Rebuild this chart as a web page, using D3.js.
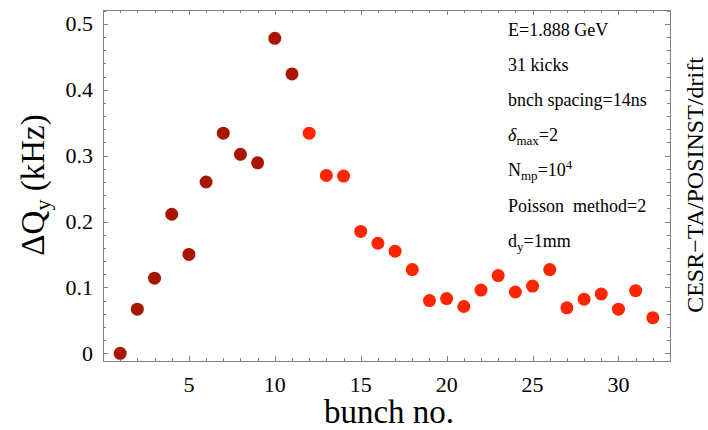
<!DOCTYPE html>
<html>
<head>
<meta charset="utf-8">
<script src="https://cdn.jsdelivr.net/npm/d3@7"></script>
<style>
  body { margin: 0; background: #fff; }
  svg { display: block; font-family: "Liberation Serif", "DejaVu Serif", serif; }
  .frame { fill: none; stroke: #808080; stroke-width: 1; }
  .tick-mark { stroke: #808080; stroke-width: 1; }
  .tick-label { font-size: 22px; fill: #000; }
  .axis-title { font-size: 33px; fill: #000; }
  .note { font-size: 18px; fill: #000; }
</style>
</head>
<body>
<svg id="chart"></svg>
<script>
// bunch number and vertical tune shift (kHz)
const bunchNo = [1, 2, 3, 4, 5, 6, 7, 8, 9, 10, 11, 12, 13, 14, 15, 16,
                 17, 18, 19, 20, 21, 22, 23, 24, 25, 26, 27, 28, 29, 30, 31, 32];
const deltaQy = [0.000, 0.067, 0.114, 0.211, 0.150, 0.260, 0.334, 0.302, 0.289, 0.478, 0.424,
                 0.334, 0.270, 0.269, 0.185, 0.167, 0.155, 0.127, 0.080, 0.083, 0.071,
                 0.096, 0.118, 0.093, 0.102, 0.127, 0.069, 0.082, 0.090, 0.067, 0.095, 0.054];
// first 11 bunches drawn darker
const pointGroup = bunchNo.map(b => b <= 11 ? 'early' : 'late');
const groupColors = {early: '#a81600', late: '#ff2500'};

const xTickValues = [5, 10, 15, 20, 25, 30];
const yTickValues = [0, 0.1, 0.2, 0.3, 0.4, 0.5];

const noteLines = [
  [{t: 'E=1.888 GeV'}],
  [{t: '31 kicks'}],
  [{t: 'bnch spacing=14ns'}],
  [{t: 'δ', it: true}, {t: 'max', sub: true}, {t: '=2'}],
  [{t: 'N'}, {t: 'mp', sub: true}, {t: '=10'}, {t: '4', sup: true}],
  [{t: 'Poisson  method=2'}],
  [{t: 'd'}, {t: 'y', sub: true}, {t: '=1mm'}]
];

const width = 708, height = 430;
const frame = {left: 103, right: 670, top: 10, bottom: 361};

const svg = d3.select('#chart')
    .attr('width', width)
    .attr('height', height);

const xScale = d3.scaleLinear()
    .domain([0, 33])
    .range([frame.left, frame.right]);

const yScale = d3.scaleLinear()
    .domain([-0.0117, 0.521])
    .range([frame.bottom, frame.top]);

// frame
svg.append('rect')
    .attr('class', 'frame')
    .attr('x', frame.left + 0.5)
    .attr('y', frame.top + 0.5)
    .attr('width', frame.right - frame.left)
    .attr('height', frame.bottom - frame.top);

// inward ticks on all four sides
const xMinor = d3.range(1, 33);
const yMinor = d3.range(0, 0.521, 0.02);
const ticks = svg.append('g');

xMinor.forEach(v => {
  const len = v % 5 === 0 ? 5 : 3;
  const x = Math.round(xScale(v)) + 0.5;
  ticks.append('line').attr('class', 'tick-mark')
      .attr('x1', x).attr('x2', x)
      .attr('y1', frame.bottom).attr('y2', frame.bottom - len);
  ticks.append('line').attr('class', 'tick-mark')
      .attr('x1', x).attr('x2', x)
      .attr('y1', frame.top).attr('y2', frame.top + len);
});

yMinor.forEach((v, i) => {
  const len = i % 5 === 0 ? 5 : 3;
  const y = Math.round(yScale(v)) + 0.5;
  ticks.append('line').attr('class', 'tick-mark')
      .attr('x1', frame.left).attr('x2', frame.left + len)
      .attr('y1', y).attr('y2', y);
  ticks.append('line').attr('class', 'tick-mark')
      .attr('x1', frame.right).attr('x2', frame.right - len)
      .attr('y1', y).attr('y2', y);
});

// tick labels
svg.append('g').selectAll('text')
    .data(xTickValues)
  .join('text')
    .attr('class', 'tick-label')
    .attr('x', d => xScale(d))
    .attr('y', 392)
    .attr('text-anchor', 'middle')
    .text(d => d);

svg.append('g').selectAll('text')
    .data(yTickValues)
  .join('text')
    .attr('class', 'tick-label')
    .attr('x', 93)
    .attr('y', d => yScale(d) + 7.5)
    .attr('text-anchor', 'end')
    .text(d => d === 0 ? '0' : d3.format('.1f')(d));

// axis titles
svg.append('text')
    .attr('class', 'axis-title')
    .attr('x', 389)
    .attr('y', 423)
    .attr('text-anchor', 'middle')
    .text('bunch no.');

const yTitle = svg.append('text')
    .attr('class', 'axis-title')
    .attr('transform', 'translate(44,185) rotate(-90)')
    .attr('text-anchor', 'middle');
yTitle.append('tspan').text('ΔQ');
yTitle.append('tspan').attr('font-size', '22px').attr('dy', 6).text('y');
yTitle.append('tspan').attr('dy', -6).text(' (kHz)');

svg.append('text')
    .attr('transform', 'translate(703,185) rotate(-90)')
    .attr('text-anchor', 'middle')
    .attr('font-size', '24px')
    .text('CESR\u2212TA/POSINST/drift');

// points
svg.append('g').selectAll('circle')
    .data(bunchNo)
  .join('circle')
    .attr('cx', d => xScale(d))
    .attr('cy', (d, i) => yScale(deltaQy[i]))
    .attr('r', 6.5)
    .attr('fill', (d, i) => groupColors[pointGroup[i]]);

// annotation block
const notes = svg.append('g');
noteLines.forEach((parts, i) => {
  const txt = notes.append('text')
      .attr('class', 'note')
      .attr('x', 508)
      .attr('y', 35.5 + i * 35.2)
      .attr('xml:space', 'preserve');
  let shift = 0;
  parts.forEach(p => {
    let target = 0;
    if (p.sub) target = 4;
    if (p.sup) target = -7;
    const ts = txt.append('tspan')
        .attr('dy', target - shift)
        .text(p.t);
    if (p.sub || p.sup) ts.attr('font-size', '13px');
    if (p.it) ts.attr('font-style', 'italic');
    shift = target;
  });
});
</script>
</body>
</html>
